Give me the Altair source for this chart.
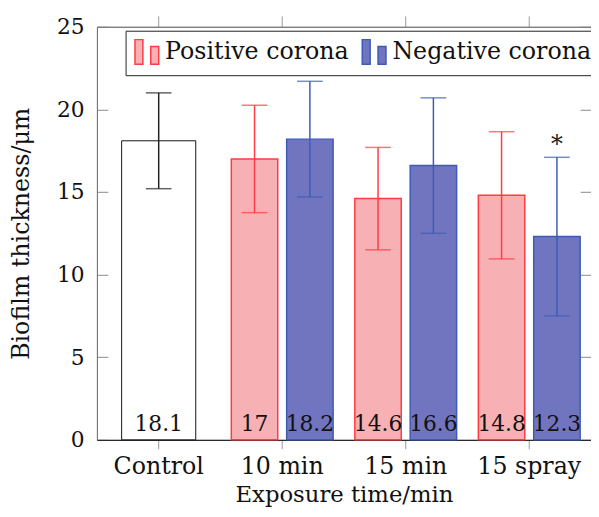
import altair as alt
import pandas as pd

categories = ["Control", "10 min", "15 min", "15 spray"]
series_names = ["Positive corona", "Negative corona"]

control_value = 18.1
control_err = 2.9

positive_values = [17.0, 14.6, 14.8]
positive_err = [3.25, 3.1, 3.85]
negative_values = [18.2, 16.6, 12.3]
negative_err = [3.5, 4.1, 4.8]
significance = ["", "", "*"]  # negative corona only

rows = [{"category": "Control", "series": "Control", "value": control_value,
         "err": control_err, "sig": ""}]
for i, cat in enumerate(categories[1:]):
    rows.append({"category": cat, "series": series_names[0], "value": positive_values[i],
                 "err": positive_err[i], "sig": ""})
    rows.append({"category": cat, "series": series_names[1], "value": negative_values[i],
                 "err": negative_err[i], "sig": significance[i]})
df = pd.DataFrame(rows)
df["lo"] = df["value"] - df["err"]
df["hi"] = df["value"] + df["err"]

FONT = "DejaVu Serif"
PINK = "#f7b0b3"
RED = "#ff3b44"
BLUE = "#7175bf"
DBLUE = "#3d5bb5"

base = alt.Chart(df)
xscale = alt.Scale(domain=categories, paddingInner=0, paddingOuter=0)
yscale = alt.Scale(domain=[0, 25], nice=False)
offscale = alt.Scale(domain=series_names, paddingInner=0.161, paddingOuter=0.196)

ctrl = base.transform_filter(alt.datum.series == "Control")
pos = base.transform_filter(alt.datum.series == series_names[0])
neg = base.transform_filter(alt.datum.series == series_names[1])
grp = base.transform_filter(alt.datum.series != "Control")

legend = alt.Legend(
    title=None, orient="none", legendX=29, legendY=4, direction="horizontal",
    symbolType="M-0.96,-1H-0.32V1H-0.96Z M0.32,-0.44H0.96V1H0.32Z",
    symbolSize=625, symbolStrokeWidth=1.5, labelFont=FONT, labelFontSize=24,
    labelColor="#111", labelOffset=5, labelLimit=400, columnPadding=10, padding=8,
    strokeColor="#222", fillColor="white", cornerRadius=0,
)

ctrl_bar = ctrl.mark_bar(width=75, fill="white", stroke="#111", strokeWidth=1).encode(
    x=alt.X("category:N", scale=xscale, sort=categories,
            axis=alt.Axis(orient="bottom", title="Exposure time/min", labelAngle=0,
                          labelFont=FONT, labelFontSize=24, labelColor="#111",
                          labelBaseline="alphabetic", labelPadding=25,
                          tickSize=9, tickColor="#999", tickWidth=1,
                          domainColor="#111", domainWidth=1,
                          titleFont=FONT, titleFontSize=23, titleFontWeight="normal",
                          titleColor="#111", titleBaseline="alphabetic", titleY=62)),
    y=alt.Y("value:Q", scale=yscale,
            axis=alt.Axis(title="Biofilm thickness/μm", values=[0, 5, 10, 15, 20, 25],
                          ticks=False, labelPadding=13, labelFont=FONT, labelFontSize=22,
                          labelColor="#111", domainColor="#777", domainWidth=1,
                          grid=True, gridColor="#888", gridWidth=1,
                          gridDash=[11, 478, 11, 1000],
                          titleFont=FONT, titleFontSize=24, titleFontWeight="normal",
                          titleColor="#111", titleBaseline="middle", titleX=-76, titleY=209)),
)

grp_bar = grp.mark_bar(width=47, strokeWidth=1.5).encode(
    x=alt.X("category:N", scale=xscale, sort=categories,
            axis=alt.Axis(orient="top", title=None, labels=False, tickSize=11,
                          tickColor="#999", domainColor="#777")),
    xOffset=alt.XOffset("series:N", scale=offscale, sort=series_names),
    y=alt.Y("value:Q", scale=yscale),
    fill=alt.Fill("series:N", scale=alt.Scale(domain=series_names, range=[PINK, BLUE]),
                  legend=legend),
    stroke=alt.Stroke("series:N", scale=alt.Scale(domain=series_names, range=[RED, DBLUE]),
                      legend=legend),
)


def err_layers(src, color, use_offset):
    enc = {"x": alt.X("category:N", scale=xscale, sort=categories, axis=None)}
    if use_offset:
        enc["xOffset"] = alt.XOffset("series:N", scale=offscale, sort=series_names)
    rule = src.mark_rule(color=color, strokeWidth=1.5).encode(
        y=alt.Y("lo:Q", scale=yscale), y2="hi:Q", **enc)
    cap_lo = src.mark_tick(color=color, size=26, thickness=1.5).encode(
        y=alt.Y("lo:Q", scale=yscale), **enc)
    cap_hi = src.mark_tick(color=color, size=26, thickness=1.5).encode(
        y=alt.Y("hi:Q", scale=yscale), **enc)
    return [rule, cap_lo, cap_hi]


errs = err_layers(ctrl, "#222", False) + err_layers(pos, RED, True) + err_layers(neg, DBLUE, True)

ctrl_text = ctrl.mark_text(font=FONT, fontSize=22, color="#111", baseline="alphabetic",
                           dy=-9).encode(
    x=alt.X("category:N", scale=xscale, sort=categories, axis=None),
    y=alt.datum(0),
    text=alt.Text("value:Q", format=".3~g"),
)
grp_text = grp.mark_text(font=FONT, fontSize=22, color="#111", baseline="alphabetic",
                         dy=-9).encode(
    x=alt.X("category:N", scale=xscale, sort=categories, axis=None),
    xOffset=alt.XOffset("series:N", scale=offscale, sort=series_names),
    y=alt.datum(0),
    text=alt.Text("value:Q", format=".3~g"),
)
sig_text = neg.mark_text(font=FONT, fontSize=24, color="#222", baseline="alphabetic",
                         dy=-5).encode(
    x=alt.X("category:N", scale=xscale, sort=categories, axis=None),
    xOffset=alt.XOffset("series:N", scale=offscale, sort=series_names),
    y=alt.Y("hi:Q", scale=yscale),
    text="sig:N",
)

chart = alt.layer(ctrl_bar, grp_bar, *errs, ctrl_text, grp_text, sig_text).resolve_axis(
    x="independent"
).properties(
    width=500, height=418,
    autosize=alt.AutoSizeParams(type="none"),
    padding={"left": 90, "top": 16, "right": 0, "bottom": 67},
).configure_view(stroke="#777", strokeWidth=1)

chart.save("out.html", embed_options={"renderer": "svg", "actions": False})
